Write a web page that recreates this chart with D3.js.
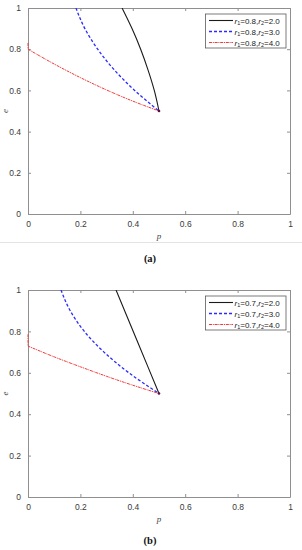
<!DOCTYPE html>
<html><head><meta charset="utf-8">
<script src="https://cdn.jsdelivr.net/npm/d3@7"></script>
<style>body{margin:0;background:#fff}svg{display:block}</style>
</head><body>
<script>
// ---- data ----
const xTicks = [0, 0.2, 0.4, 0.6, 0.8, 1];
const yTicks = [0, 0.2, 0.4, 0.6, 0.8, 1];
const xTickLabels = ["0", "0.2", "0.4", "0.6", "0.8", "1"];
const yTickLabels = ["0", "0.2", "0.4", "0.6", "0.8", "1"];

const panelLabels = ["(a)", "(b)"];
const r1Values = ["0.8", "0.7"];
const r2Values = ["2.0", "3.0", "4.0"];

// panel (a)
const aBlackP = [0.359, 0.397, 0.430, 0.458, 0.482, 0.5];
const aBlackE = [1.0, 0.9, 0.8, 0.7, 0.6, 0.5];
const aBlueP  = [0.183, 0.217, 0.266, 0.329, 0.407, 0.5];
const aBlueE  = [1.0, 0.9, 0.8, 0.7, 0.6, 0.5];
const aRedP   = [0, 0, 0.1, 0.2, 0.3, 0.4, 0.5];
const aRedE   = [0.83, 0.8, 0.728, 0.662, 0.602, 0.548, 0.5];

// panel (b)
const bBlackP = [0.336, 0.418, 0.5];
const bBlackE = [1.0, 0.75, 0.5];
const bBlueP  = [0.126, 0.161, 0.215, 0.290, 0.385, 0.5];
const bBlueE  = [1.0, 0.9, 0.8, 0.7, 0.6, 0.5];
const bRedP   = [0, 0, 0.1, 0.2, 0.3, 0.4, 0.5];
const bRedE   = [0.786, 0.729, 0.677, 0.629, 0.583, 0.540, 0.5];

const meetP = [0.5], meetE = [0.5];

const seriesStyle = [
  {color: "#1a1a1a", dash: null, width: 1.1},
  {color: "#2b2bff", dash: "3,2", width: 1.3},
  {color: "#f23a3a", dash: "3,0.8,1,0.8", width: 1.0}
];

const W = 302, H = 550;
const svg = d3.select("body").append("svg").attr("width", W).attr("height", H);

const panels = [
  {top: 8, bottom: 214, series: [[aBlackP, aBlackE],[aBlueP, aBlueE],[aRedP, aRedE]], r1: r1Values[0], label: panelLabels[0], capY: 262, sep: true},
  {top: 290, bottom: 497, series: [[bBlackP, bBlackE],[bBlueP, bBlueE],[bRedP, bRedE]], r1: r1Values[1], label: panelLabels[1], capY: 544, sep: false}
];

const left = 28, right = 290;
const axisColor = "#8f8f8f", textColor = "#3a3a3a";

panels.forEach(pn => {
  const x = d3.scaleLinear().domain([0, 1]).range([left, right]);
  const y = d3.scaleLinear().domain([0, 1]).range([pn.bottom, pn.top]);
  const g = svg.append("g");

  // axes first
  const fs = "8.5px";
  const bottomAxis = d3.axisBottom(x).tickValues(xTicks).tickFormat((d, i) => xTickLabels[i]).tickSizeInner(-3).tickSizeOuter(0).tickPadding(7);
  const leftAxis = d3.axisLeft(y).tickValues(yTicks).tickFormat((d, i) => yTickLabels[i]).tickSizeInner(-3).tickSizeOuter(0).tickPadding(7);
  const topAxis = d3.axisTop(x).tickValues(xTicks).tickFormat("").tickSizeInner(-3).tickSizeOuter(0);
  const rightAxis = d3.axisRight(y).tickValues(yTicks).tickFormat("").tickSizeInner(-3).tickSizeOuter(0);
  [[bottomAxis, `translate(0,${pn.bottom})`],[leftAxis, `translate(${left},0)`],[topAxis, `translate(0,${pn.top})`],[rightAxis, `translate(${right},0)`]].forEach(([ax, tr]) => {
    const a = g.append("g").attr("transform", tr).call(ax);
    a.select(".domain").attr("stroke", axisColor).attr("stroke-width", 1);
    a.selectAll(".tick line").attr("stroke", axisColor);
    a.selectAll(".tick text").attr("fill", textColor).style("font-family", "Liberation Sans, Arial, sans-serif").style("font-size", fs);
  });

  // curves on top
  const clipId = "clip" + pn.top;
  svg.append("clipPath").attr("id", clipId).append("rect")
    .attr("x", left - 1).attr("y", pn.top).attr("width", right - left + 2).attr("height", pn.bottom - pn.top);
  const cg = g.append("g").attr("clip-path", `url(#${clipId})`);
  const lineY = d3.line().x(d => x(d[0])).y(d => y(d[1])).curve(d3.curveMonotoneY);
  const lineX = d3.line().x(d => x(d[0])).y(d => y(d[1])).curve(d3.curveMonotoneX);
  const lineL = d3.line().x(d => x(d[0])).y(d => y(d[1]));
  pn.series.forEach((s, i) => {
    const pts = s[0].map((p, k) => [p, s[1][k]]);
    const st = seriesStyle[i];
    let d;
    if (pts[0][0] === pts[1][0]) {
      d = lineL(pts.slice(0, 2)) + "L" + lineX(pts.slice(1)).slice(1);
    } else {
      d = lineY(pts);
    }
    cg.append("path").attr("d", d).attr("fill", "none")
      .attr("stroke", st.color).attr("stroke-width", st.width)
      .attr("stroke-dasharray", st.dash);
  });
  cg.selectAll("circle.m").data(meetP.map((p, k) => [p, meetE[k]])).enter().append("circle")
    .attr("cx", d => x(d[0])).attr("cy", d => y(d[1])).attr("r", 1.3).attr("fill", "#5a1040");

  g.append("text").attr("x", (left + right) / 2).attr("y", pn.bottom + 25).attr("text-anchor", "middle")
    .style("font-family", "Liberation Serif, serif").style("font-style", "italic").style("font-size", "9px").attr("fill", "#444").text("p");
  g.append("text").attr("transform", `translate(8,${(pn.top + pn.bottom) / 2}) rotate(-90)`).attr("text-anchor", "middle")
    .style("font-family", "Liberation Serif, serif").style("font-style", "italic").style("font-size", "9px").attr("fill", "#444").text("e");

  const lx = 205.5, ly = pn.top + 6, lw = 80.5, lh = 34;
  g.append("rect").attr("x", lx).attr("y", ly).attr("width", lw).attr("height", lh)
    .attr("fill", "#fff").attr("stroke", "#5a5a5a").attr("stroke-width", 0.8);
  r2Values.forEach((r2, i) => {
    const yy = ly + 6.5 + i * 11;
    const st = seriesStyle[i];
    g.append("line").attr("x1", lx + 3.5).attr("x2", lx + 27.5).attr("y1", yy).attr("y2", yy)
      .attr("stroke", st.color).attr("stroke-width", st.width).attr("stroke-dasharray", st.dash);
    const t = g.append("text").attr("x", lx + 29).attr("y", yy + 3)
      .style("font-family", "Liberation Sans, Arial, sans-serif").style("font-size", "8px").attr("fill", "#222");
    t.append("tspan").style("font-style", "italic").text("r");
    t.append("tspan").attr("dy", 1.5).style("font-size", "5.5px").text("1");
    t.append("tspan").attr("dy", -1.5).text("=" + pn.r1 + ",");
    t.append("tspan").style("font-style", "italic").text("r");
    t.append("tspan").attr("dy", 1.5).style("font-size", "5.5px").text("2");
    t.append("tspan").attr("dy", -1.5).text("=" + r2);
  });

  if (pn.sep) {
    svg.append("line").attr("x1", 0).attr("x2", W).attr("y1", 242.5).attr("y2", 242.5).attr("stroke", "#e3e3e3").attr("stroke-width", 1);
  }
  svg.append("text").attr("x", 150).attr("y", pn.capY).attr("text-anchor", "middle")
    .style("font-family", "Liberation Serif, serif").style("font-weight", "bold").style("font-size", "10.5px").attr("fill", "#111").text(pn.label);
});
</script>
</body></html>
